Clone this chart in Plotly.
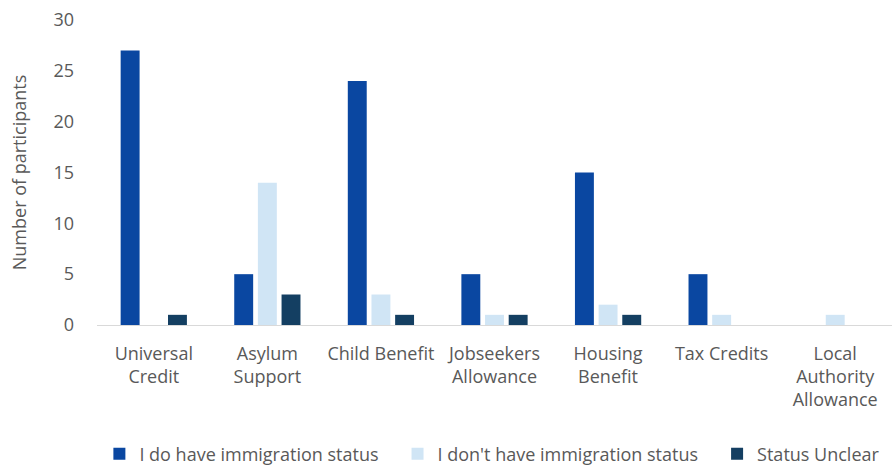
import plotly.graph_objects as go

categories = ["Universal<br>Credit", "Asylum<br>Support", "Child Benefit", "Jobseekers<br>Allowance",
              "Housing<br>Benefit", "Tax Credits", "Local<br>Authority<br>Allowance"]
have_status = [27, 5, 24, 5, 15, 5, 0]
no_status = [0, 14, 3, 1, 2, 1, 1]
unclear = [1, 3, 1, 1, 1, 0, 0]

pad = "\u00a0\u00a0\u00a0"
series = [
    ("I do have immigration status" + pad, have_status, "#0A47A1"),
    ("I don't have immigration status" + pad, no_status, "#D0E5F5"),
    ("Status Unclear", unclear, "#143F62"),
]

fig = go.Figure()
for name, vals, col in series:
    fig.add_trace(go.Bar(x=categories, y=vals, name=name, marker_color=col,
                         marker_line_width=0))

font_col = "#595959"
fig.update_layout(
    width=892, height=466,
    margin=dict(l=97, r=0, t=20, b=141, autoexpand=False),
    paper_bgcolor="white", plot_bgcolor="white",
    font=dict(family="Open Sans", size=18, color=font_col),
    barmode="group", bargap=0.375, bargroupgap=0.2,
    showlegend=True,
    legend=dict(orientation="h", x=0.552, xref="container", xanchor="center",
                y=-0.484, yref="paper", yanchor="bottom",
                font=dict(size=18, color=font_col), itemwidth=30),
    xaxis=dict(showline=True, linecolor="#D9D9D9", linewidth=1, ticks="",
               tickfont=dict(size=18, color=font_col), showgrid=False,
               ticklabelstandoff=12),
    yaxis=dict(range=[0, 30], dtick=5, showgrid=False, zeroline=False, showline=False,
               tickfont=dict(size=18, color=font_col), ticklabelstandoff=22,
               title=dict(text="Number of participants", font=dict(size=18, color=font_col),
                          standoff=22)),
)
fig.write_html("out.html")
